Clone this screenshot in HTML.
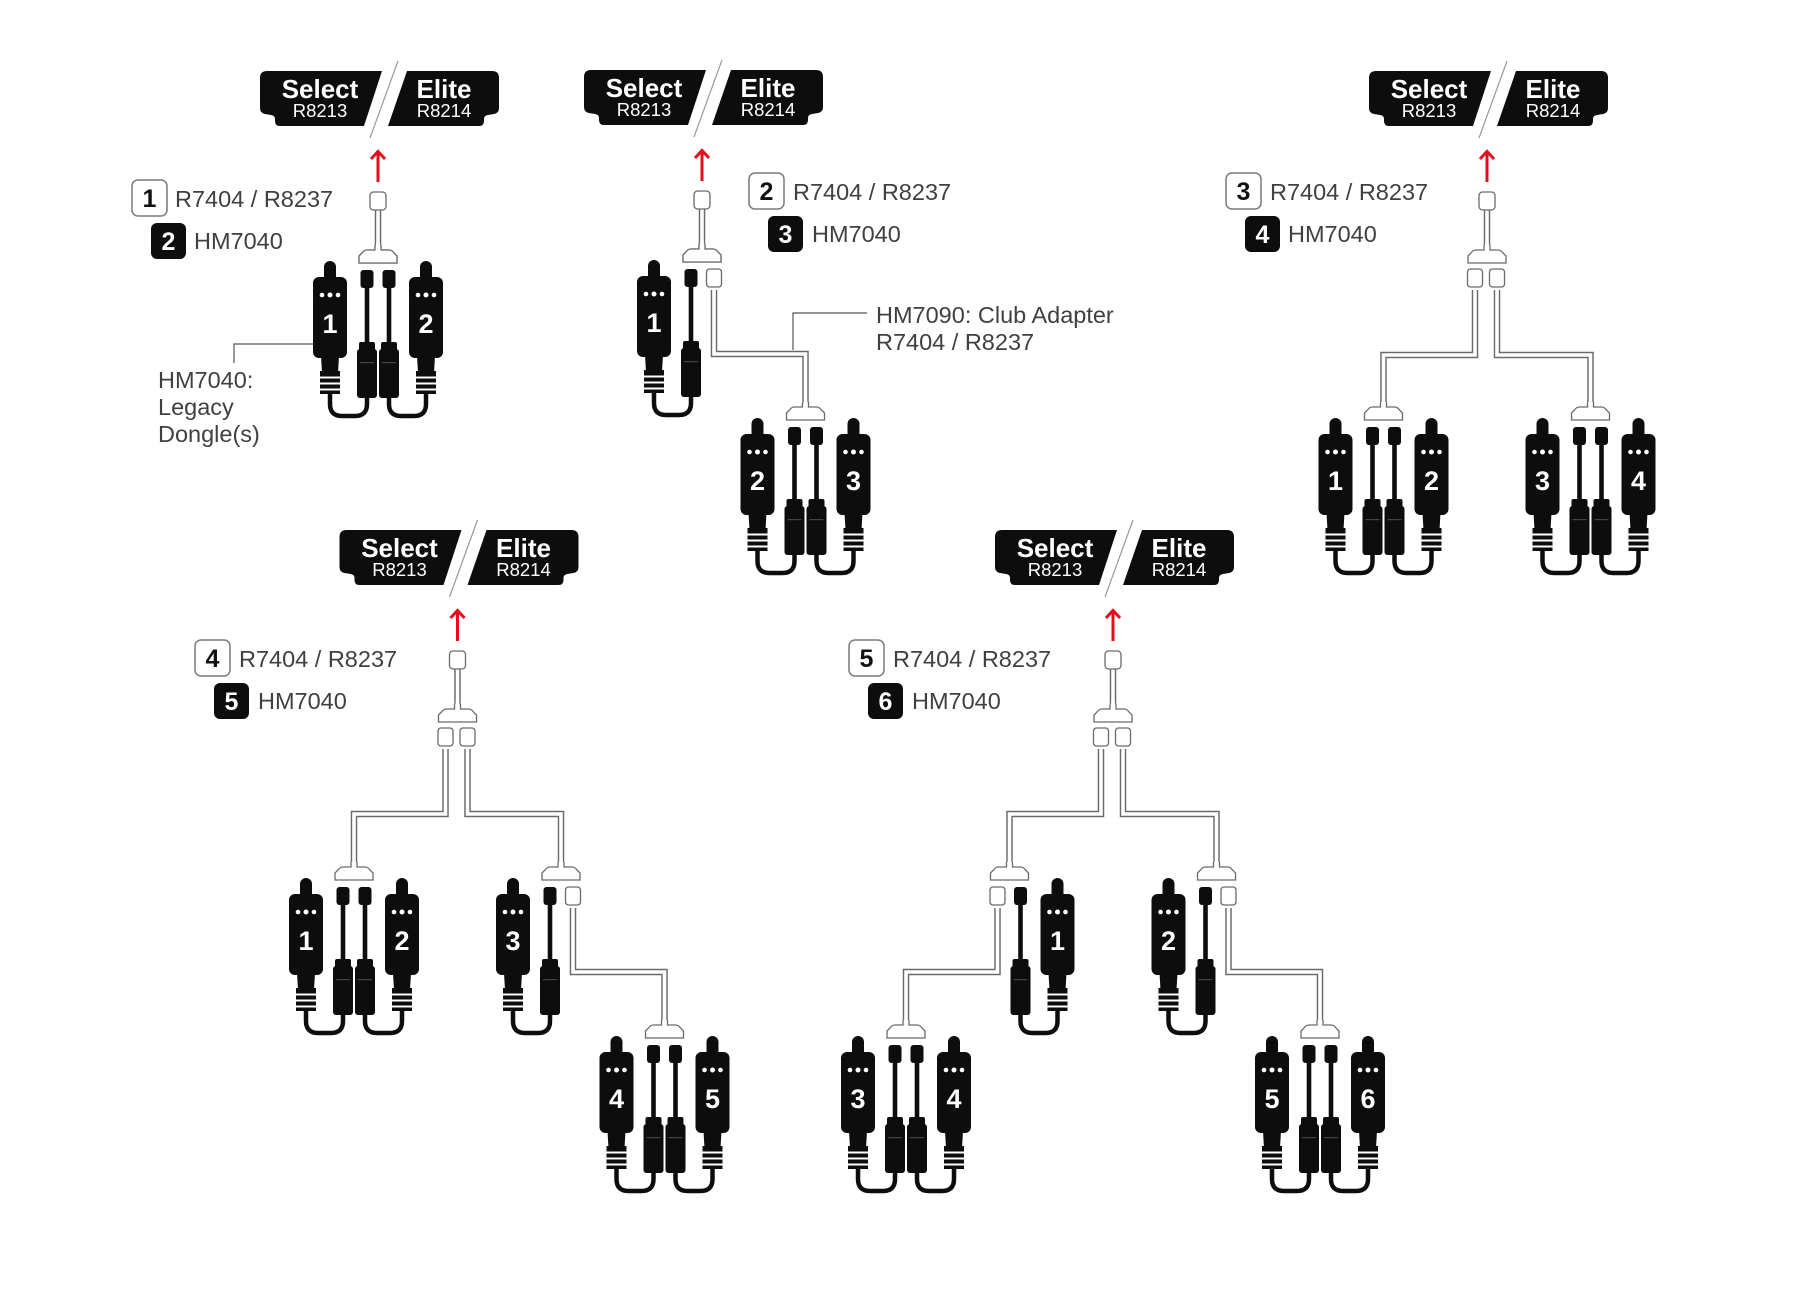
<!DOCTYPE html>
<html><head><meta charset="utf-8"><style>
html,body{margin:0;padding:0;background:#fff;}
svg{display:block;}
.t{font-family:"Liberation Sans",Arial,sans-serif;font-size:23.5px;fill:#404040;}
.dn{font-family:"Liberation Sans",Arial,sans-serif;font-weight:bold;font-size:27px;fill:#fff;text-anchor:middle;}
.bn{font-family:"Liberation Sans",Arial,sans-serif;font-weight:bold;font-size:25px;text-anchor:middle;}
.bs{font-family:"Liberation Sans",Arial,sans-serif;font-weight:bold;font-size:26px;fill:#fff;text-anchor:middle;}
.br{font-family:"Liberation Sans",Arial,sans-serif;font-size:18.5px;fill:#fff;text-anchor:middle;}
.co{fill:none;stroke:#6a6a6a;stroke-width:6.5;stroke-linejoin:miter;}
.ci{fill:none;stroke:#fff;stroke-width:3.6;stroke-linejoin:miter;}
.ar{fill:none;stroke:#e2101e;stroke-width:3;}
.ld{fill:none;stroke:#555;stroke-width:1.2;}
</style></head><body>
<svg width="1818" height="1308" viewBox="0 0 1818 1308" xmlns="http://www.w3.org/2000/svg">
<defs>
  <g id="badge">
    <path fill="#0d0d0d" d="M7,0 H122 L104,55 H20 Q15,55 15,50 V48 Q15,44.5 11,44 L5,43 Q0,42 0,37 V7 Q0,0 7,0 Z"/>
    <path fill="#0d0d0d" d="M147,0 H232 Q239,0 239,7 V37 Q239,42 234,43 L228,44 Q224,44.5 224,48 V50 Q224,55 219,55 H128 Z"/>
    <line x1="138" y1="-10" x2="110" y2="67" stroke="#999" stroke-width="1.2"/>
  </g>
  <g id="arrow">
    <path class="ar" d="M0,32 V1.5 M-7,9 L0,1.5 L7,9"/>
  </g>
  <g id="tb">
    <path fill="#fff" stroke="#6a6a6a" stroke-width="1.3" d="M-3,53 V58 H-11 Q-14,58 -16,61 L-19,64 V71 H19 V64 L16,61 Q14,58 11,58 H3 V53"/>
  </g>
  <g id="conn">
    <path class="co" d="M0,17 V55"/><path class="ci" d="M0,16 V57"/>
    <rect x="-8" y="0" width="16" height="18" rx="3.5" fill="#fff" stroke="#6a6a6a" stroke-width="1.3"/>
    <use href="#tb"/>
    <path class="ci" d="M0,50 V58.5"/>
  </g>
  <g id="wp">
    <rect x="-7.5" y="0" width="15" height="18" rx="3" fill="#fff" stroke="#6a6a6a" stroke-width="1.3"/>
  </g>
  <g id="dg">
    <path fill="#0d0d0d" d="M-6,90 V75 A6,6 0 0 1 6,75 V90 Z"/>
    <rect x="-17" y="85" width="34" height="81" rx="6" fill="#0d0d0d"/>
    <path fill="#0d0d0d" d="M-9,164 H9 L8,181 H-8 Z"/>
    <rect x="-10" y="179" width="20" height="23" fill="#0d0d0d"/>
    <rect x="-11" y="184.5" width="22" height="2" fill="#fff"/>
    <rect x="-11" y="190.5" width="22" height="2" fill="#fff"/>
    <rect x="-11" y="196.5" width="22" height="2" fill="#fff"/>
    <circle cx="-8" cy="103" r="2.3" fill="#fff"/>
    <circle cx="0" cy="103" r="2.5" fill="#fff"/>
    <circle cx="8" cy="103" r="2.3" fill="#fff"/>
  </g>
  <g id="plug">
    <rect x="-6.5" y="78" width="13" height="18" rx="3" fill="#0d0d0d"/>
    <rect x="-2.3" y="94" width="4.6" height="60" fill="#0d0d0d"/>
    <rect x="-8" y="150" width="16" height="10" rx="2" fill="#0d0d0d"/>
    <rect x="-10" y="157" width="20" height="49" rx="3" fill="#0d0d0d"/>
    <rect x="-7" y="170" width="14" height="1.2" fill="#444"/>
  </g>
  <path id="loopL" d="M-48,200 V212 Q-48,224 -36,224 H-23 Q-11,224 -11,212 V204" fill="none" stroke="#0d0d0d" stroke-width="4.5"/>
  <path id="loopR" d="M48,200 V212 Q48,224 36,224 H23 Q11,224 11,212 V204" fill="none" stroke="#0d0d0d" stroke-width="4.5"/>
  <g id="full">
    <use href="#tb"/>
    <use href="#loopL"/><use href="#loopR"/>
    <use href="#plug" transform="translate(-11,0)"/>
    <use href="#plug" transform="translate(11,0)"/>
    <use href="#dg" transform="translate(-48,0)"/>
    <use href="#dg" transform="translate(48,0)"/>
  </g>
  <g id="halfL">
    <use href="#tb"/>
    <use href="#loopL"/>
    <use href="#plug" transform="translate(-11,0)"/>
    <use href="#dg" transform="translate(-48,0)"/>
    <use href="#wp" transform="translate(12,78)"/>
  </g>
  <g id="split">
    <use href="#conn"/>
    <use href="#wp" transform="translate(-12,77)"/>
    <use href="#wp" transform="translate(10,77)"/>
  </g>
</defs>

<!-- ================= Diagram A ================= -->
<use href="#badge" transform="translate(260,71)"/>
<text class="bs" x="320" y="98">Select</text><text class="br" x="320" y="117">R8213</text>
<text class="bs" x="444" y="98">Elite</text><text class="br" x="444" y="117">R8214</text>
<use href="#arrow" transform="translate(378,150)"/>
<use href="#conn" transform="translate(378,192)"/>
<use href="#full" transform="translate(378,192)"/>
<text class="dn" x="330" y="333">1</text><text class="dn" x="426" y="333">2</text>
<rect x="132" y="180" width="35" height="36" rx="6" fill="#fff" stroke="#7a7a7a" stroke-width="1.5"/>
<text class="bn" x="149.5" y="207" fill="#111">1</text>
<text class="t" x="175" y="207">R7404 / R8237</text>
<rect x="151" y="223" width="35" height="36" rx="6" fill="#0d0d0d"/>
<text class="bn" x="168.5" y="250" fill="#fff">2</text>
<text class="t" x="194" y="249">HM7040</text>
<path class="ld" d="M313,344 H234 V363"/>
<text class="t" x="158" y="388">HM7040:</text>
<text class="t" x="158" y="415">Legacy</text>
<text class="t" x="158" y="442">Dongle(s)</text>

<!-- ================= Diagram B ================= -->
<use href="#badge" transform="translate(584,70)"/>
<text class="bs" x="644" y="97">Select</text><text class="br" x="644" y="116">R8213</text>
<text class="bs" x="768" y="97">Elite</text><text class="br" x="768" y="116">R8214</text>
<use href="#arrow" transform="translate(702,149)"/>
<path class="co" d="M714,290 V354 H805.5 V405"/><path class="ci" d="M714,288 V354 H805.5 V407"/>
<use href="#conn" transform="translate(702,191)"/>
<use href="#halfL" transform="translate(702,191)"/>
<text class="dn" x="654" y="332">1</text>
<use href="#full" transform="translate(805.5,349)"/>
<text class="dn" x="757.5" y="490">2</text><text class="dn" x="853.5" y="490">3</text>
<rect x="749" y="173" width="35" height="36" rx="6" fill="#fff" stroke="#7a7a7a" stroke-width="1.5"/>
<text class="bn" x="766.5" y="200" fill="#111">2</text>
<text class="t" x="793" y="200">R7404 / R8237</text>
<rect x="768" y="216" width="35" height="36" rx="6" fill="#0d0d0d"/>
<text class="bn" x="785.5" y="243" fill="#fff">3</text>
<text class="t" x="812" y="242">HM7040</text>
<path class="ld" d="M867,313 H793 V350"/>
<text class="t" x="876" y="323">HM7090: Club Adapter</text>
<text class="t" x="876" y="350">R7404 / R8237</text>

<!-- ================= Diagram C ================= -->
<use href="#badge" transform="translate(1369,71)"/>
<text class="bs" x="1429" y="98">Select</text><text class="br" x="1429" y="117">R8213</text>
<text class="bs" x="1553" y="98">Elite</text><text class="br" x="1553" y="117">R8214</text>
<use href="#arrow" transform="translate(1487,150)"/>
<path class="co" d="M1475,290 V355 H1383.5 V405"/><path class="ci" d="M1475,288 V355 H1383.5 V407"/>
<path class="co" d="M1497,290 V355 H1590.5 V405"/><path class="ci" d="M1497,288 V355 H1590.5 V407"/>
<use href="#split" transform="translate(1487,192)"/>
<use href="#full" transform="translate(1383.5,349)"/>
<use href="#full" transform="translate(1590.5,349)"/>
<text class="dn" x="1335.5" y="490">1</text><text class="dn" x="1431.5" y="490">2</text>
<text class="dn" x="1542.5" y="490">3</text><text class="dn" x="1638.5" y="490">4</text>
<rect x="1226" y="173" width="35" height="36" rx="6" fill="#fff" stroke="#7a7a7a" stroke-width="1.5"/>
<text class="bn" x="1243.5" y="200" fill="#111">3</text>
<text class="t" x="1270" y="200">R7404 / R8237</text>
<rect x="1245" y="216" width="35" height="36" rx="6" fill="#0d0d0d"/>
<text class="bn" x="1262.5" y="243" fill="#fff">4</text>
<text class="t" x="1288" y="242">HM7040</text>

<!-- ================= Diagram D ================= -->
<use href="#badge" transform="translate(339.5,530)"/>
<text class="bs" x="399.5" y="557">Select</text><text class="br" x="399.5" y="576">R8213</text>
<text class="bs" x="523.5" y="557">Elite</text><text class="br" x="523.5" y="576">R8214</text>
<use href="#arrow" transform="translate(457.5,609)"/>
<path class="co" d="M445.5,749 V814 H354 V864"/><path class="ci" d="M445.5,747 V814 H354 V866"/>
<path class="co" d="M467.5,749 V814 H561 V864"/><path class="ci" d="M467.5,747 V814 H561 V866"/>
<path class="co" d="M573,908 V972 H664.5 V1022"/><path class="ci" d="M573,906 V972 H664.5 V1024"/>
<use href="#split" transform="translate(457.5,651)"/>
<use href="#full" transform="translate(354,809)"/>
<text class="dn" x="306" y="950">1</text><text class="dn" x="402" y="950">2</text>
<use href="#halfL" transform="translate(561,809)"/>
<text class="dn" x="513" y="950">3</text>
<use href="#full" transform="translate(664.5,967)"/>
<text class="dn" x="616.5" y="1108">4</text><text class="dn" x="712.5" y="1108">5</text>
<rect x="195" y="640" width="35" height="36" rx="6" fill="#fff" stroke="#7a7a7a" stroke-width="1.5"/>
<text class="bn" x="212.5" y="667" fill="#111">4</text>
<text class="t" x="239" y="667">R7404 / R8237</text>
<rect x="214" y="683" width="35" height="36" rx="6" fill="#0d0d0d"/>
<text class="bn" x="231.5" y="710" fill="#fff">5</text>
<text class="t" x="258" y="709">HM7040</text>

<!-- ================= Diagram E ================= -->
<use href="#badge" transform="translate(995,530)"/>
<text class="bs" x="1055" y="557">Select</text><text class="br" x="1055" y="576">R8213</text>
<text class="bs" x="1179" y="557">Elite</text><text class="br" x="1179" y="576">R8214</text>
<use href="#arrow" transform="translate(1113,609)"/>
<path class="co" d="M1101,749 V814 H1009.5 V864"/><path class="ci" d="M1101,747 V814 H1009.5 V866"/>
<path class="co" d="M1123,749 V814 H1216.5 V864"/><path class="ci" d="M1123,747 V814 H1216.5 V866"/>
<path class="co" d="M997.5,908 V972 H906 V1022"/><path class="ci" d="M997.5,906 V972 H906 V1024"/>
<path class="co" d="M1228.5,908 V972 H1320 V1022"/><path class="ci" d="M1228.5,906 V972 H1320 V1024"/>
<use href="#split" transform="translate(1113,651)"/>
<use href="#halfL" transform="translate(1009.5,809) scale(-1,1)"/>
<text class="dn" x="1057.5" y="950">1</text>
<use href="#halfL" transform="translate(1216.5,809)"/>
<text class="dn" x="1168.5" y="950">2</text>
<use href="#full" transform="translate(906,967)"/>
<text class="dn" x="858" y="1108">3</text><text class="dn" x="954" y="1108">4</text>
<use href="#full" transform="translate(1320,967)"/>
<text class="dn" x="1272" y="1108">5</text><text class="dn" x="1368" y="1108">6</text>
<rect x="849" y="640" width="35" height="36" rx="6" fill="#fff" stroke="#7a7a7a" stroke-width="1.5"/>
<text class="bn" x="866.5" y="667" fill="#111">5</text>
<text class="t" x="893" y="667">R7404 / R8237</text>
<rect x="868" y="683" width="35" height="36" rx="6" fill="#0d0d0d"/>
<text class="bn" x="885.5" y="710" fill="#fff">6</text>
<text class="t" x="912" y="709">HM7040</text>
</svg>
</body></html>
